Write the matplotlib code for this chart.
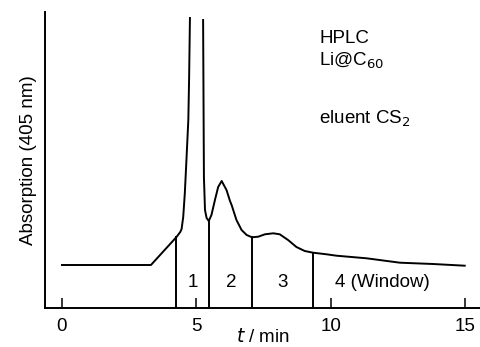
import numpy as np
import matplotlib
matplotlib.use("Agg")
import matplotlib.pyplot as plt

plt.rcParams['font.family'] = ['Liberation Sans', 'DejaVu Sans']

# chromatogram (time in min, absorption in arbitrary units); main peak is off-scale
t_left = [0.0, 3.31, 4.26, 4.40, 4.45, 4.51, 4.57, 4.63, 4.70, 4.73, 4.76]
a_left = [43, 43, 71, 76, 79, 91, 115, 148, 188, 231, 290]
t_right = [5.25, 5.28, 5.32, 5.38, 5.46, 5.56, 5.69, 5.81, 5.94, 6.06, 6.12, 6.25, 6.31,
           6.49, 6.68, 6.87, 7.07, 7.30, 7.55, 7.86, 8.10, 8.41, 8.72, 9.03, 9.34,
           9.84, 10.21, 11.33, 12.57, 13.80, 14.98]
a_right = [288, 131, 98, 90, 87, 93, 108, 121, 127, 121, 118, 107, 103,
           88, 78, 73, 70.7, 71.3, 73.7, 74.7, 73.7, 68, 61, 57, 55.3,
           53.7, 52.3, 49.7, 45.3, 44, 42.3]

cuts = [4.26, 5.46, 7.07, 9.34]
frac_labels = ["1", "2", "3", "4 (Window)"]
frac_pos = [4.87, 6.29, 8.22, 11.92]
xticks = [0, 5, 10, 15]

fig = plt.figure(figsize=(4.81, 3.47), dpi=100)
ax = fig.add_axes([0.0936, 0.1124, 0.9044, 0.853])

t_all = np.array(t_left + [np.nan] + t_right)
a_all = np.array(a_left + [np.nan] + a_right)
ax.plot(t_all, a_all, color='black', lw=1.4, solid_joinstyle='round')

for c in cuts:
    if c < 5:
        h = np.interp(c, t_left, a_left)
    else:
        h = np.interp(c, t_right, a_right)
    ax.plot([c, c], [0, h], color='black', lw=1.4)

for lab, x in zip(frac_labels, frac_pos):
    ax.text(x, 25, lab, ha='center', va='center', fontsize=13.5)

ax.set_xlim(-0.63, 15.55)
ax.set_ylim(0, 296)
ax.spines['top'].set_visible(False)
ax.spines['right'].set_visible(False)
ax.spines['left'].set_linewidth(1.4)
ax.spines['bottom'].set_linewidth(1.4)
ax.set_yticks([])
ax.set_xticks(xticks)
ax.set_xticklabels([str(v) for v in xticks], fontsize=13.5)
ax.tick_params(axis='x', direction='in', length=7, width=1.1, pad=7)

ax.set_xlabel(r'$\it{t}$ / min', fontsize=13.5, labelpad=-4.5)
ax.set_ylabel('Absorption (405 nm)', fontsize=13.5, labelpad=6)

ax.text(9.57, 265, 'HPLC', fontsize=13.5, ha='left', va='baseline')
ax.text(9.57, 242, r'Li@C$_{60}$', fontsize=13.5, ha='left', va='baseline')
ax.text(9.57, 184, r'eluent CS$_2$', fontsize=13.5, ha='left', va='baseline')

fig.savefig('out.png', dpi=100)
